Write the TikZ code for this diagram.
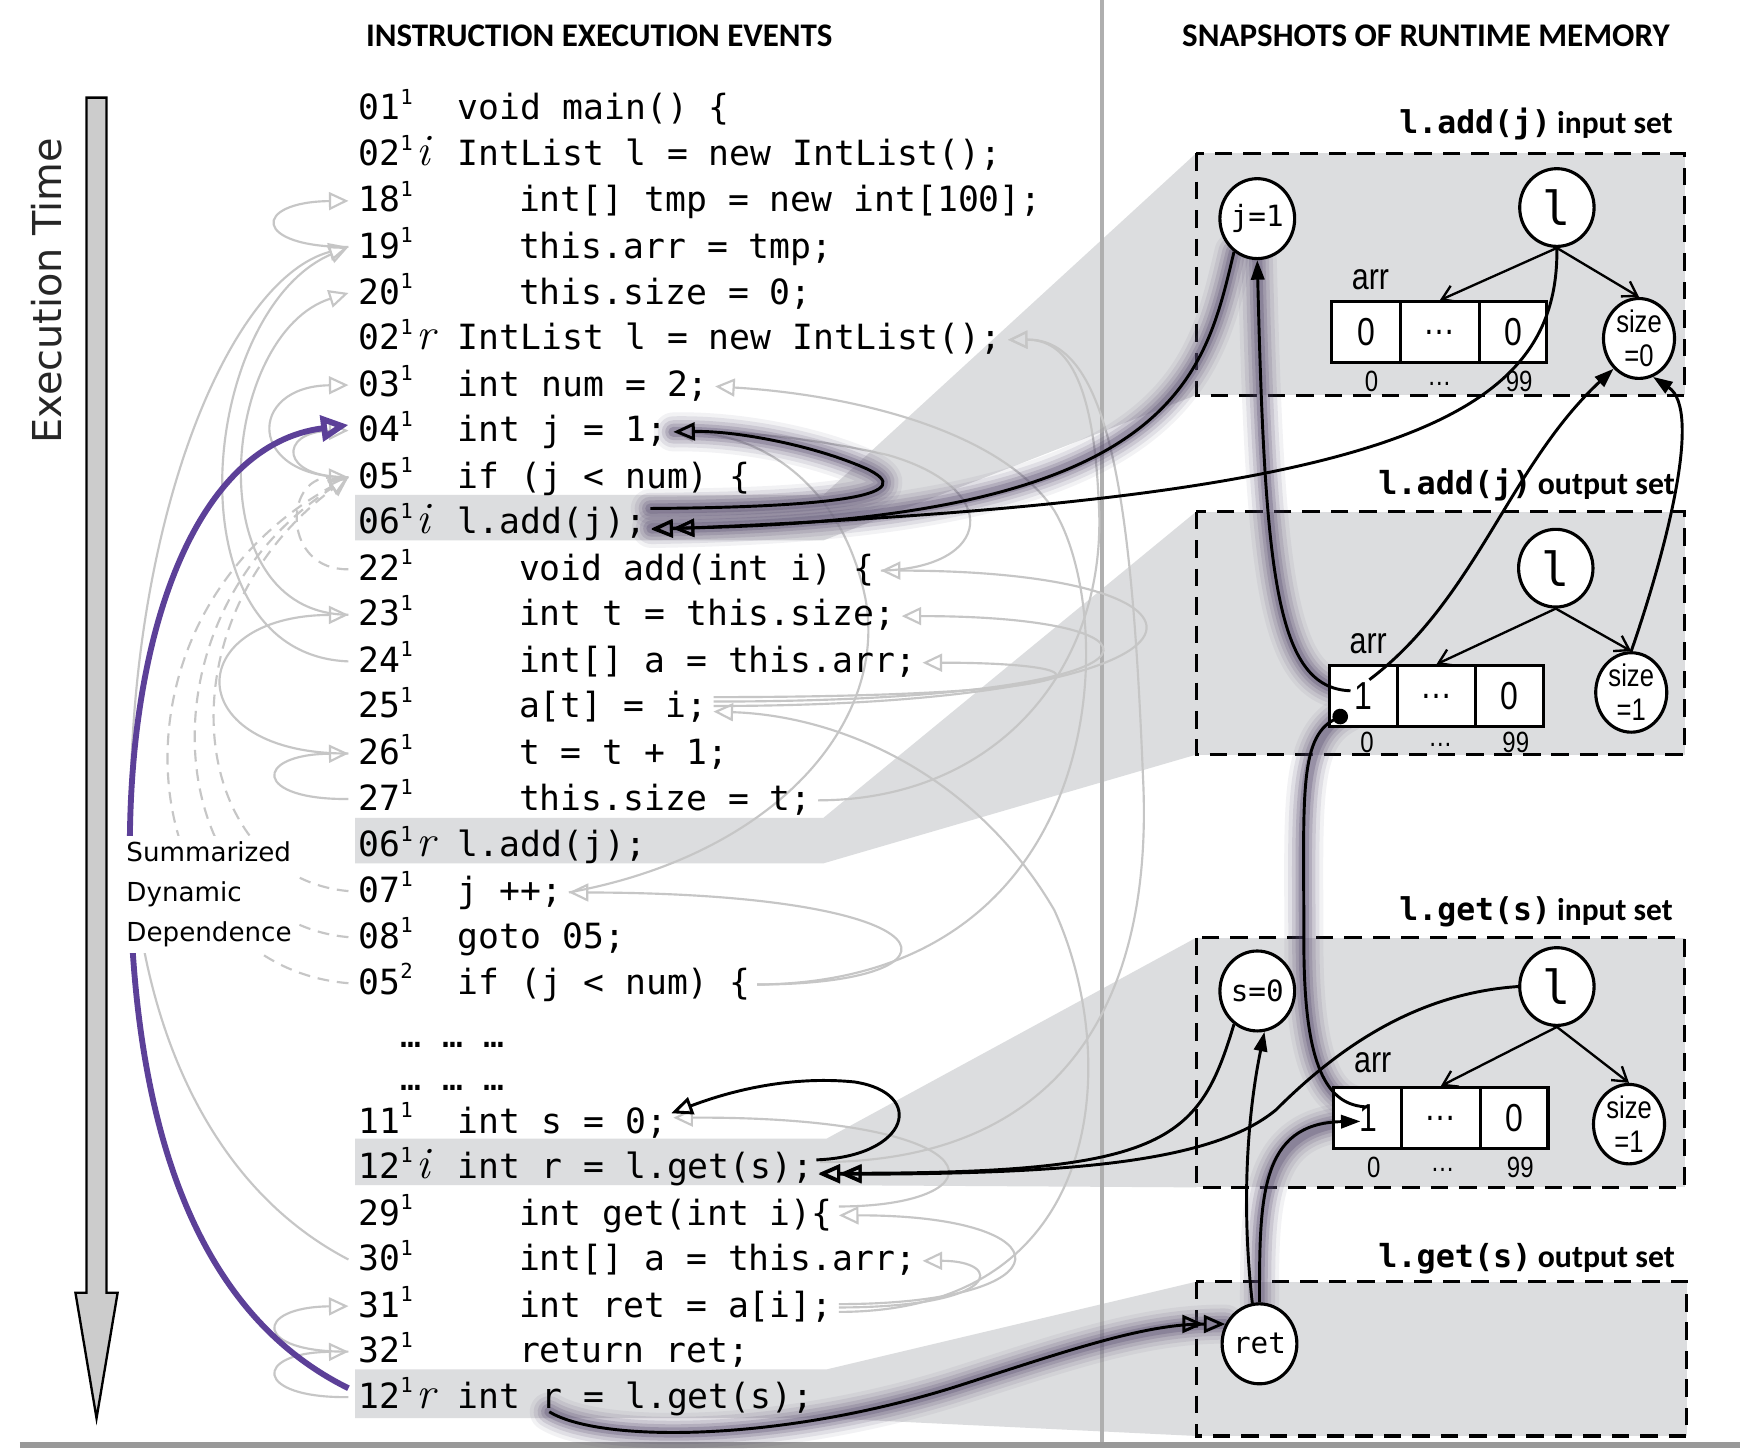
\documentclass[tikz,border=0pt]{standalone}
\usepackage{fontspec}
\usepackage{graphicx}
\usetikzlibrary{arrows.meta,shapes.geometric,calc}
\newfontfamily\monofont{DejaVu Sans Mono}
\newfontfamily\headfont{Carlito}
\newfontfamily\narrowfont{Liberation Sans}[FakeStretch=0.82]
\newfontfamily\gothicfont{DejaVu Sans}
\newcommand{\codefont}{\monofont\fontsize{8.9}{10}\selectfont}
\newcommand{\supfont}{\monofont\fontsize{5.3}{6}\selectfont}
\newcommand{\irfont}{\fontsize{11.5}{12}\selectfont\itshape}
\definecolor{boxgrey}{RGB}{220,221,223}
\definecolor{arcgrey}{RGB}{198,198,198}
\definecolor{purp}{RGB}{92,64,152}
\definecolor{glowc}{RGB}{84,72,108}
\definecolor{divgrey}{RGB}{175,175,175}
\pgfdeclarelayer{bg}\pgfdeclarelayer{arcs}\pgfdeclarelayer{glow}
\pgfsetlayers{bg,arcs,glow,main}
\tikzset{
 numtxt/.style={anchor=base west, inner sep=0, font=\codefont},
 suptxt/.style={anchor=base west, inner sep=0, font=\supfont},
 irtxt/.style={anchor=base west, inner sep=0, font=\irfont},
 codetxt/.style={anchor=base west, inner sep=0, font=\codefont, text height=7pt, text depth=2pt},
 greyarc/.style={draw=arcgrey, line width=0.55pt, -{Triangle[open,length=5pt,width=4.6pt]}},
 greydash/.style={greyarc, dash pattern=on 3pt off 2pt},
 membox/.style={draw=black, fill=boxgrey, line width=0.8pt, dash pattern=on 4.5pt off 2.8pt},
 memnode/.style={ellipse, draw=black, line width=0.8pt, fill=white, minimum width=0.66cm, minimum height=0.72cm, inner sep=0},
 cell/.style={rectangle, draw=black, line width=0.8pt, fill=white, minimum height=0.55cm, inner sep=0, font=\narrowfont\fontsize{10}{11}\selectfont},
 idx/.style={inner sep=0, font=\narrowfont\fontsize{7.5}{8}\selectfont},
 arrlab/.style={inner sep=0, font=\narrowfont\fontsize{9.5}{10}\selectfont},
 sizelab/.style={align=center, font=\narrowfont\fontsize{8}{8.6}\selectfont},
 conn/.style={draw=black, line width=0.75pt},
 fhead/.style={conn, -{Triangle[length=5pt,width=3.4pt]}},
 ohead/.style={conn, -{Triangle[open,length=5.5pt,width=4.6pt]}},
 oohead/.style={conn, -{Triangle[open,length=5.5pt,width=4.6pt] Triangle[open,length=5.5pt,width=4.6pt]}},
 treearr/.style={draw=black, line width=0.6pt, -{Straight Barb[length=3.5pt,width=4.5pt]}},
 glowA/.style={draw=glowc, line width=10pt, opacity=0.07, line cap=round, line join=round},
 glowB/.style={draw=glowc, line width=8pt, opacity=0.11, line cap=round, line join=round},
 glowC/.style={draw=glowc, line width=6pt, opacity=0.15, line cap=round, line join=round},
 glowD/.style={draw=glowc, line width=4.2pt, opacity=0.2, line cap=round, line join=round},
 glowE/.style={draw=glowc, line width=2.6pt, opacity=0.28, line cap=round, line join=round},
 purpline/.style={draw=purp, line width=1.5pt, -{Triangle[open,length=7pt,width=6.5pt,line width=1.5pt]}},
}
\newcommand{\codeln}[7]{%
 \node[numtxt] (n#1) at (322,#2+11) {#3};
 \node[suptxt] (s#1) at (360,#2-3) {#4};
 \node[irtxt] (ir#1) at (375,#2+11) {#5};
 \node[codetxt] (t#1) at (#6,#2+11) {#7};
 \coordinate (L#1) at (314,#2+1);
 \coordinate (R#1) at ($(t#1.east)+(5,0)$);
}
\newcommand{\glowdraw}[2]{%
 \begin{pgfonlayer}{glow}
 \draw[glowA] #2; \draw[glowB] #2; \draw[glowC] #2; \draw[glowD] #2; \draw[glowE] #2;
 \end{pgfonlayer}
 \draw[#1] #2;}
\begin{document}
\begin{tikzpicture}[x=0.01cm,y=-0.01cm]
\useasboundingbox (0,0) rectangle (1568,1305);
\begin{pgfonlayer}{bg}
 \fill[white] (0,0) rectangle (1568,1305);
 \fill[boxgrey] (320,446) -- (742,446) -- (1078,138) -- (1078,356) -- (742,487) -- (320,487) -- cycle;
 \fill[boxgrey] (320,737) -- (742,737) -- (1078,461) -- (1078,680) -- (742,778) -- (320,778) -- cycle;
 \fill[boxgrey] (320,1026) -- (745,1026) -- (1078,845) -- (1078,1070) -- (745,1068) -- (320,1068) -- cycle;
 \fill[boxgrey] (320,1234) -- (745,1234) -- (1078,1155) -- (1078,1294) -- (745,1278) -- (320,1278) -- cycle;
 \draw[membox] (1078,138) rectangle (1518,356);
 \draw[membox] (1078,461) rectangle (1518,680);
 \draw[membox] (1078,845) rectangle (1518,1070);
 \draw[membox] (1078,1155) rectangle (1520,1294);
 \draw[divgrey, line width=1.2pt] (993,0) -- (993,1302);
 \draw[gray!80, line width=1.6pt] (18,1302) -- (1568,1302);
\end{pgfonlayer}

% execution time arrow
\draw[fill=gray!40, line width=0.6pt] (78,88) -- (96,88) -- (96,1165) -- (106,1165) -- (87,1278) -- (68,1165) -- (78,1165) -- cycle;
\node[font=\gothicfont, rotate=90, text=black!85, inner sep=0] (etime) at (42,262) {\resizebox{2.75cm}{!}{Execution Time}};

% headers
\node[font=\headfont\bfseries, inner sep=0] (h1) at (540,32) {\resizebox{4.2cm}{!}{INSTRUCTION EXECUTION EVENTS}};
\node[font=\headfont\bfseries, inner sep=0] (h2) at (1285,32) {\resizebox{4.39cm}{!}{SNAPSHOTS OF RUNTIME MEMORY}};

% code lines
\codeln{01}{97}{01}{1}{}{412}{void main() \{}
\codeln{02i}{138.5}{02}{1}{i}{412}{IntList l = new IntList();}
\codeln{18}{180}{18}{1}{}{467}{int[] tmp = new int[100];}
\codeln{19}{221.5}{19}{1}{}{467}{this.arr = tmp;}
\codeln{20}{263}{20}{1}{}{467}{this.size = 0;}
\codeln{02r}{304}{02}{1}{r}{412}{IntList l = new IntList();}
\codeln{03}{346}{03}{1}{}{412}{int num = 2;}
\codeln{04}{387}{04}{1}{}{412}{int j = 1;}
\codeln{05a}{429}{05}{1}{}{412}{if (j < num) \{}
\codeln{06i}{470}{06}{1}{i}{412}{l.add(j);}
\codeln{22}{512}{22}{1}{}{467}{void add(int i) \{}
\codeln{23}{553}{23}{1}{}{467}{int t = this.size;}
\codeln{24}{595}{24}{1}{}{467}{int[] a = this.arr;}
\codeln{25}{636}{25}{1}{}{467}{a[t] = i;}
\codeln{26}{678}{26}{1}{}{467}{t = t + 1;}
\codeln{27}{719}{27}{1}{}{467}{this.size = t;}
\codeln{06r}{761}{06}{1}{r}{412}{l.add(j);}
\codeln{07}{802}{07}{1}{}{412}{j ++;}
\codeln{08}{843.5}{08}{1}{}{412}{goto 05;}
\codeln{05b}{885}{05}{2}{}{412}{if (j < num) \{}
\node[codetxt] (dots1) at (360,944) {… … …};
\node[codetxt] (dots2) at (360,983) {… … …};
\codeln{11}{1010}{11}{1}{}{412}{int s = 0;}
\codeln{12i}{1051}{12}{1}{i}{412}{int r = l.get(s);}
\codeln{29}{1093}{29}{1}{}{467}{int get(int i)\{}
\codeln{30}{1134}{30}{1}{}{467}{int[] a = this.arr;}
\codeln{31}{1176}{31}{1}{}{467}{int ret = a[i];}
\codeln{32}{1217}{32}{1}{}{467}{return ret;}
\codeln{12r}{1258}{12}{1}{r}{412}{int r = l.get(s);}

% grey dependence arcs
\begin{pgfonlayer}{arcs}
\draw[greyarc] (L19) .. controls (227,223) and (227,182) .. (L18);
\draw[greyarc] (L24) .. controls (150,590) and (180,280) .. (L19);
\draw[greyarc] (L30) .. controls (170,1060) and (112,880) .. (118,700) .. controls (125,450) and (210,250) .. (L19);
\draw[greyarc] (L23) .. controls (175,553) and (200,300) .. (L20);
\draw[greyarc] (L05a) .. controls (222,431) and (222,348) .. (L03);
\draw[greyarc] (L05a) .. controls (251,431) and (251,389) .. (L04);
\draw[greydash] (L22) .. controls (255,514) and (255,431) .. (L05a);
\draw[greydash] (L07) .. controls (170,790) and (140,560) .. (L05a);
\draw[greydash] (L08) .. controls (150,830) and (115,560) .. (L05a);
\draw[greydash] (L05b) .. controls (120,870) and (80,560) .. (L05a);
\draw[greyarc] (L26) .. controls (162,680) and (162,555) .. (L23);
\draw[greyarc] (L27) .. controls (228,721) and (228,680) .. (L26);
\draw[greyarc] (L32) .. controls (228,1219) and (228,1178) .. (L31);
\draw[greyarc] (L12r) .. controls (228,1260) and (228,1219) .. (L32);
\draw[greyarc] (R05b) .. controls (880,887) and (870,805) .. (R07);
\draw[greyarc] (R05b) .. controls (1000,885) and (1010,560) .. (950,460) .. controls (900,385) and (760,355) .. (R03);
\draw[greyarc] (R22) .. controls (895,512) and (905,440) .. (800,410) .. controls (720,392) and (660,389) .. (R04);
\draw[greyarc] (R07) .. controls (700,770) and (800,650) .. (780,540) .. controls (760,440) and (690,392) .. (R04);
\draw[greyarc] ($(R25)+(0,-10)$) .. controls (1010,628) and (1010,597) .. (R24);
\draw[greyarc] ($(R25)+(0,-6)$) .. controls (1074,632) and (1074,555) .. (R23);
\draw[greyarc] ($(R25)+(0,-2)$) .. controls (1131,636) and (1131,514) .. (R22);
\draw[greyarc] ($(R31)+(0,4)$) .. controls (1000,1182) and (1010,950) .. (950,820) .. controls (880,700) and (760,645) .. ($(R25)+(0,3)$);
\draw[greyarc] (R31) .. controls (905,1178) and (905,1136) .. (R30);
\draw[greyarc] ($(R31)+(0,-3)$) .. controls (965,1175) and (965,1095) .. (R29);
\draw[greyarc] ($(R29)+(0,-8)$) .. controls (905,1087) and (905,1006) .. ($(R11)+(0,-5)$);
\draw[greyarc] ($(R12i)+(0,-6)$) .. controls (960,1047) and (1040,900) .. (1030,700) .. controls (1020,450) and (1000,305) .. (R02r);
\draw[greyarc] (R27) .. controls (900,721) and (1000,600) .. (990,450) .. controls (985,340) and (960,306) .. (R02r);
\end{pgfonlayer}

% purple summarized dependence
\draw[purpline] ($(L12r)+(0,-8)$) .. controls (170,1180) and (115,1000) .. (117,760) .. controls (118,560) and (180,400) .. ($(L04)+(0,-5)$);
\node[fill=white, inner sep=1.5pt, align=left, anchor=west, font=\gothicfont\fontsize{6.7}{10.2}\selectfont] (sdd) at (108,806) {Summarized\\Dynamic\\Dependence};

% box labels
\node[anchor=east, inner sep=0] (lab1) at (1508,112) {\resizebox{2.46cm}{!}{\monofont\bfseries l.add(j)\hspace{0.2em}\headfont\bfseries input set}};
\node[anchor=east, inner sep=0] (lab2) at (1510,437) {\resizebox{2.67cm}{!}{\monofont\bfseries l.add(j)\hspace{0.2em}\headfont\bfseries output set}};
\node[anchor=east, inner sep=0] (lab3) at (1508,822) {\resizebox{2.46cm}{!}{\monofont\bfseries l.get(s)\hspace{0.2em}\headfont\bfseries input set}};
\node[anchor=east, inner sep=0] (lab4) at (1510,1134) {\resizebox{2.67cm}{!}{\monofont\bfseries l.get(s)\hspace{0.2em}\headfont\bfseries output set}};

% memory box 1
\node[memnode] (j1) at (1133,197) {\monofont\fontsize{7.5}{8}\selectfont j=1};
\node[memnode, minimum width=0.67cm, minimum height=0.70cm] (l1) at (1403,187) {\monofont\fontsize{12}{12}\selectfont l};
\node[memnode, minimum width=0.64cm, minimum height=0.70cm, sizelab] (size0) at (1477,305) {size\\=0};
\node[arrlab] (arrl1) at (1235,252) {arr};
\node[cell, minimum width=0.62cm] (arr1a) at (1231,299.5) {0};
\node[cell, minimum width=0.71cm] (arr1b) at (1297.5,299.5) {…};
\node[cell, minimum width=0.61cm] (arr1c) at (1363.5,299.5) {0};
\node[idx] (i1a) at (1236,344) {0};
\node[idx] (i1b) at (1297,346) {…};
\node[idx] (i1c) at (1369,344) {99};

% memory box 2
\node[memnode, minimum width=0.67cm, minimum height=0.70cm] (l2) at (1402,512) {\monofont\fontsize{12}{12}\selectfont l};
\node[memnode, minimum width=0.64cm, minimum height=0.68cm, sizelab] (size1) at (1470,624) {size\\=1};
\node[arrlab] (arrl2) at (1233,580) {arr};
\node[cell, minimum width=0.62cm] (arr2a) at (1229,627.5) {1};
\node[cell, minimum width=0.71cm] (arr2b) at (1294.5,627.5) {…};
\node[cell, minimum width=0.61cm] (arr2c) at (1360.5,627.5) {0};
\node[idx] (i2a) at (1232,669) {0};
\node[idx] (i2b) at (1298,671) {…};
\node[idx] (i2c) at (1366,669) {99};

% memory box 3
\node[memnode] (s0) at (1133,893) {\monofont\fontsize{7.5}{8}\selectfont s=0};
\node[memnode, minimum width=0.67cm, minimum height=0.70cm] (l3) at (1403,889) {\monofont\fontsize{12}{12}\selectfont l};
\node[memnode, minimum width=0.64cm, minimum height=0.68cm, sizelab] (size1b) at (1468,1013) {size\\=1};
\node[arrlab] (arrl3) at (1237,958) {arr};
\node[cell, minimum width=0.62cm] (arr3a) at (1233,1007.5) {1};
\node[cell, minimum width=0.71cm] (arr3b) at (1298.5,1007.5) {…};
\node[cell, minimum width=0.61cm] (arr3c) at (1364.5,1007.5) {0};
\node[idx] (i3a) at (1238,1052) {0};
\node[idx] (i3b) at (1300,1054) {…};
\node[idx] (i3c) at (1370,1052) {99};

% memory box 4
\node[memnode] (ret) at (1135,1211) {\monofont\fontsize{7.5}{8}\selectfont ret};

% tree arrows
\draw[treearr] (l1.south) -- (arr1b.north);
\draw[treearr] (l1.south) -- (size0.north);
\draw[treearr] (l2.south) -- (arr2b.north);
\draw[treearr] (l2.south) -- (size1.north);
\draw[treearr] (l3.south) -- (arr3b.north);
\draw[treearr] (l3.south) -- (size1b.north);

% black dependence connectors
\glowdraw{ohead}{($(R06i)+(-2,-14)$) .. controls (760,457) and (830,445) .. (780,422) .. controls (730,400) and (660,388) .. (R04)}
\glowdraw{oohead}{(j1.235) .. controls (1085,340) and (1060,470) .. ($(R06i)+(-1,4)$)}
\draw[oohead] (l1.south) .. controls (1405,380) and (1250,450) .. ($(R06i)+(-1,5)$);
\glowdraw{fhead}{($(arr2a.center)+(-12,-5)$) .. controls (1150,620) and (1140,520) .. (j1.south)}
\glowdraw{conn, {Circle[length=4pt]}-}{($(arr2a.center)+(-15,15)$) .. controls (1170,665) and (1175,720) .. (1175,850) .. controls (1175,960) and (1195,997) .. ($(arr3a.center)+(0,-10)$)}
\glowdraw{fhead}{(ret.north) .. controls (1135,1080) and (1135,1012) .. ($(arr3a.center)+(-7,3)$)}
\draw[fhead] (ret.100) .. controls (1118,1080) and (1125,1000) .. (s0.-80);
\draw[oohead] (s0.235) .. controls (1080,1030) and (1050,1058) .. ($(R12i)+(-1,4)$);
\draw[oohead] (l3.west) .. controls (1280,895) and (1210,940) .. (1150,1000) .. controls (1090,1050) and (950,1058) .. ($(R12i)+(-1,5)$);
\draw[ohead] ($(R12i)+(-3,-8)$) .. controls (820,1042) and (835,985) .. (770,975) .. controls (700,968) and (640,990) .. ($(R11)+(-2,-9)$);
\glowdraw{oohead}{($(t12r.west)+(83,12)$) .. controls (540,1300) and (700,1300) .. (860,1250) .. controls (960,1218) and (1030,1193) .. (ret.150)}
\draw[fhead] ($(arr2a.center)+(5,-15)$) .. controls (1330,540) and (1360,420) .. (size0.-130);
\draw[fhead] (size1.north) .. controls (1500,500) and (1535,370) .. (size0.-70);
\end{tikzpicture}
\end{document}
